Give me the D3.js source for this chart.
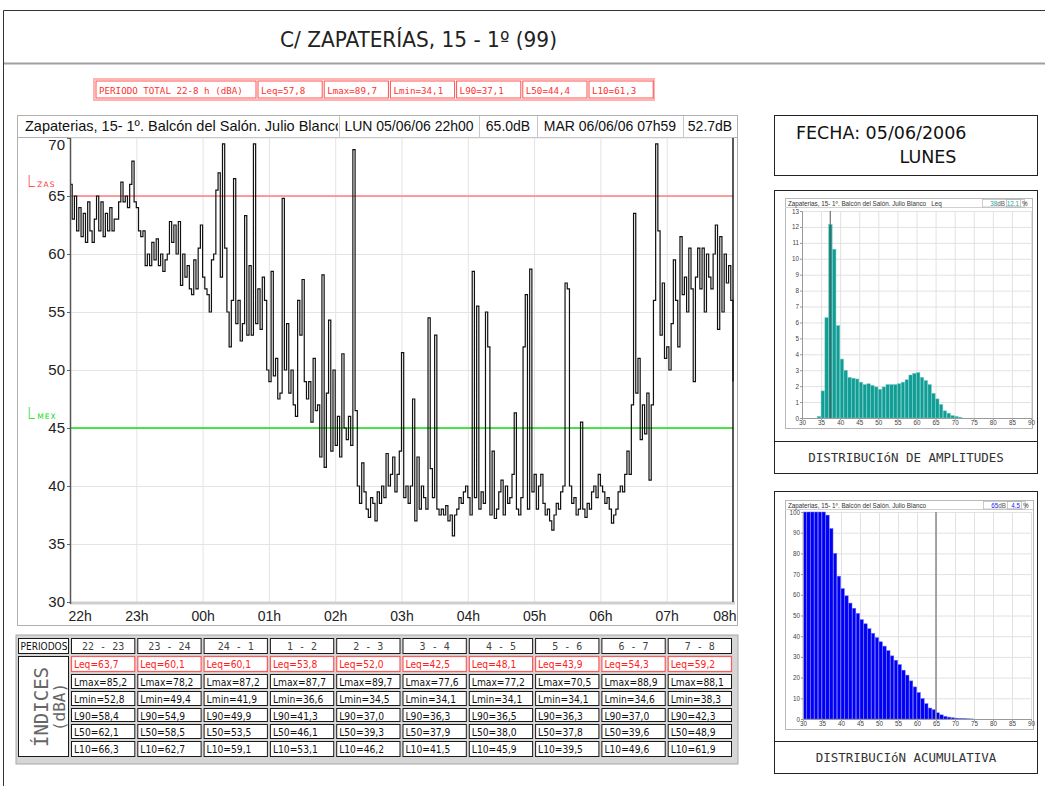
<!DOCTYPE html>
<head>
  <meta charset="utf-8">
  <style>
    body { margin: 0; background: #fff; }
    svg { display: block; }
  </style>
  <script src="https://cdn.jsdelivr.net/npm/d3@7"></script>
</head>
<body>
<svg id=chart width="1045" height="786"></svg>

<script>
// ---- values ----
const title = 'C/ ZAPATERÍAS, 15 - 1º (99)'
const totalLabels = ['PERIODO TOTAL 22-8 h (dBA)', 'Leq=57,8', 'Lmax=89,7', 'Lmin=34,1', 'L90=37,1', 'L50=44,4', 'L10=61,3']
const headerTexts = ['Zapaterias, 15- 1º. Balcón del Salón. Julio Blanco', 'LUN 05/06/06 22h00', '65.0dB', 'MAR 06/06/06 07h59', '52.7dB']

const hourLabels = ['22h', '23h', '00h', '01h', '02h', '03h', '04h', '05h', '06h', '07h', '08h']
const levelTicks = [30, 35, 40, 45, 50, 55, 60, 65, 70]
const limitZas = 65
const limitMex = 45

// Leq trace, one value every 2 minutes from 22h00
const stepMinutes = 2
const leqTrace = [
  66, 63, 65, 62, 64, 61.5, 63.5, 61, 64.5, 62,
  61, 63, 65, 62, 64.5, 61.5, 63.5, 62, 64, 62,
  63, 63, 64.5, 66.2, 64.5, 65, 64, 66, 68, 64.5,
  64, 62, 61.5, 62, 59, 60, 59, 61, 59.5, 61.3,
  59, 60, 58.5, 59.5, 60, 62.8, 61, 62.5, 60, 62.8,
  57.3, 60, 58, 59, 57, 56.5, 59.5, 57, 60.5, 62.5,
  58, 57, 56.5, 55, 59.5, 60, 65.5, 67, 58, 69.5,
  60.5, 55, 52, 56, 66.5, 54, 56, 52.5, 54, 63.3,
  53, 59, 53, 69.5, 54, 57, 53.5, 58, 56, 50,
  49, 58.5, 49.5, 51, 47.5, 48, 64.8, 50, 54, 48,
  50, 47, 46, 56, 53, 57.8, 49, 47.5, 49, 45.5,
  51, 46.5, 47, 42.5, 58.2, 41.6, 48, 54.3, 43, 50,
  43.5, 46, 42.5, 51.4, 45, 44, 46, 43.5, 69, 46.5,
  40, 38.5, 42, 39.5, 38, 37.3, 39, 38.5, 37, 39.5,
  38.5, 40, 39, 42.8, 40, 41, 42.5, 39.5, 41, 43,
  51.5, 39, 40, 38.5, 40, 47.5, 37, 42.5, 38, 40,
  39, 38, 54.5, 41.5, 39, 53, 38, 37.5, 38, 37.5,
  38.3, 37, 37.5, 35.7, 37.5, 38, 39, 38.5, 39.5, 40,
  39, 37.5, 58.5, 39, 55.5, 38, 39.5, 38.5, 55, 52,
  37.5, 43, 37.2, 38, 39.5, 40.5, 37.5, 40, 38.5, 39,
  41, 46.3, 38, 37.5, 39, 52, 56.5, 38, 58.7, 39.5,
  41, 38, 40, 41, 38.5, 37.5, 38, 37, 36.2, 37.5,
  38.5, 38, 39.5, 40, 57.5, 57, 40, 38.5, 39, 37.5,
  38, 45.5, 38, 37.3, 38.5, 38, 39.5, 40, 39, 41,
  40, 39.5, 38.5, 39, 38, 36.8, 37.5, 38, 39.5, 40,
  39.5, 41, 43, 41, 47, 63.5, 48, 51, 44, 47,
  44.5, 48, 40.5, 47, 56, 69.5, 62, 53, 57.5, 51,
  52, 50, 54, 59.5, 56, 52, 61.5, 56.5, 58, 55,
  60.5, 57, 49, 58, 60.5, 57, 60.5, 55, 60, 58,
  57, 60, 62.5, 53.5, 61.5, 55, 60, 57.5, 59, 56,
  49
]

const periods = ['22 - 23', '23 - 24', '24 - 1', '1 - 2', '2 - 3', '3 - 4', '4 - 5', '5 - 6', '6 - 7', '7 - 8']
const leqRow  = [63.7, 60.1, 60.1, 53.8, 52.0, 42.5, 48.1, 43.9, 54.3, 59.2]
const lmaxRow = [85.2, 78.2, 87.2, 87.7, 89.7, 77.6, 77.2, 70.5, 88.9, 88.1]
const lminRow = [52.8, 49.4, 41.9, 36.6, 34.5, 34.1, 34.1, 34.1, 34.6, 38.3]
const l90Row  = [58.4, 54.9, 49.9, 41.3, 37.0, 36.3, 36.5, 36.3, 37.0, 42.3]
const l50Row  = [62.1, 58.5, 53.5, 46.1, 39.3, 37.9, 38.0, 37.8, 39.6, 48.9]
const l10Row  = [66.3, 62.7, 59.1, 53.1, 46.2, 41.5, 45.9, 39.5, 49.6, 61.9]

const fechaText = 'FECHA: 05/06/2006'
const diaText = 'LUNES'

const distTicks = [30, 35, 40, 45, 50, 55, 60, 65, 70, 75, 80, 85, 90]
const ampLevels  = [34, 35, 36, 37, 38, 39, 40, 41, 42, 43, 44, 45, 46, 47, 48, 49, 50, 51, 52,
                    53, 54, 55, 56, 57, 58, 59, 60, 61, 62, 63, 64, 65, 66, 67, 68, 69, 70, 71]
const ampPercent = [0.1, 1.7, 6.3, 12.15, 10.6, 5.8, 3.7, 3.0, 2.55, 2.5, 2.45, 2.25, 2.1, 2.15, 2.05, 1.95, 1.8, 1.95, 2.1,
                    2.1, 2.1, 2.15, 2.25, 2.4, 2.7, 2.8, 2.85, 2.55, 2.35, 2.1, 1.55, 1.2, 0.85, 0.45, 0.3, 0.15, 0.1, 0.05]
const ampTicks = [0, 1, 2, 3, 4, 5, 6, 7, 8, 9, 10, 11, 12, 13]
const cumLevels  = [30, 31, 32, 33, 34, 35, 36, 37, 38, 39, 40, 41, 42, 43, 44, 45, 46, 47, 48, 49, 50, 51, 52,
                    53, 54, 55, 56, 57, 58, 59, 60, 61, 62, 63, 64, 65, 66, 67, 68, 69, 70, 71, 72, 73, 74]
const cumPercent = [100, 100, 100, 100, 100, 100, 98.5, 92, 80, 69, 63, 59.5, 56, 53.5, 51, 48, 46, 43.6, 41.4, 39.3, 37.3, 35.2, 33,
                    30.5, 28.4, 26.3, 23.6, 21.2, 18.4, 15.5, 12.8, 9.9, 7.4, 5.3, 4.5, 3.0, 2.0, 1.3, 0.9, 0.6, 0.4, 0.25, 0.15, 0.1, 0.05]
const cumTicks = [0, 10, 20, 30, 40, 50, 60, 70, 80, 90, 100]

// ---- drawing ----
const svg = d3.select('#chart')
const narrow = "'Liberation Sans Narrow','DejaVu Sans Condensed',sans-serif"
const mono = "'DejaVu Sans Mono','Liberation Mono',monospace"
const arial = "'Liberation Sans',Arial,sans-serif"
const dejavu = "'DejaVu Sans',Verdana,sans-serif"
const fmt = v => d3.format('.1f')(v).replace('.', ',')

// page frame and title
svg.append('path').attr('d', 'M3.5,786V10.5H1045').attr('fill', 'none').attr('stroke', '#333')
svg.append('line').attr('x1', 4).attr('x2', 1045).attr('y1', 63.5).attr('y2', 63.5)
  .attr('stroke', '#a0a0a0').attr('stroke-width', 2)
svg.append('text').attr('x', 280).attr('y', 47).attr('font-family', narrow).attr('font-size', 21)
  .attr('fill', '#222').attr('textLength', 277).attr('lengthAdjust', 'spacingAndGlyphs').text(title)

// total period summary
const sumG = svg.append('g')
const sumW = totalLabels.map((d, i) => i === 0 ? 162 : 66.2)
let sx = 95
sumG.append('rect').attr('x', 94).attr('y', 79).attr('width', 560).attr('height', 21)
  .attr('fill', 'none').attr('stroke', '#ffb4b4').attr('stroke-width', 2)
totalLabels.forEach((t, i) => {
  sumG.append('rect').attr('x', sx + 1).attr('y', 81).attr('width', sumW[i] - 2).attr('height', 17)
    .attr('fill', '#fff').attr('stroke', '#ff5050')
  sumG.append('text').attr('x', sx + 4).attr('y', 93.5).attr('font-family', mono).attr('font-size', 9.2)
    .attr('fill', '#ff3030').text(t)
  sx += sumW[i]
})

// main chart
const x = d3.scaleLinear().domain([0, 600]).range([70, 733])
const y = d3.scaleLinear().domain([30, 70]).range([602, 138])

svg.append('rect').attr('x', 17.5).attr('y', 137.5).attr('width', 720).attr('height', 488)
  .attr('fill', '#fff').attr('stroke', '#b0b0b0')

// header strip
const hdrEdges = [18, 339, 479, 537, 683, 737]
const hdrG = svg.append('g')
hdrG.append('rect').attr('x', 17.5).attr('y', 115.5).attr('width', 720).attr('height', 22)
  .attr('fill', '#fff').attr('stroke', '#b0b0b0')
svg.append('clipPath').attr('id', 'hclip').append('rect').attr('x', 18).attr('y', 115).attr('width', 320).attr('height', 22)
headerTexts.forEach((t, i) => {
  if (i > 0) hdrG.append('line').attr('x1', hdrEdges[i] + 0.5).attr('x2', hdrEdges[i] + 0.5)
    .attr('y1', 116).attr('y2', 137).attr('stroke', '#c8c8c8')
  const tx = hdrG.append('text').attr('x', i === 0 ? 25 : (hdrEdges[i] + hdrEdges[i + 1]) / 2)
    .attr('y', 131).attr('font-family', arial).attr('font-size', i === 0 ? 14.5 : 14).attr('fill', '#111')
    .attr('text-anchor', i === 0 ? 'start' : 'middle').text(t)
  if (i === 0) tx.attr('clip-path', 'url(#hclip)')
})

// grid
const plot = svg.append('g')
plot.selectAll('line.hg').data(levelTicks.slice(1, -1)).join('line')
  .attr('x1', x(0)).attr('x2', x(600)).attr('y1', d => y(d) + 0.5).attr('y2', d => y(d) + 0.5)
  .attr('stroke', '#e4e4e4')
plot.selectAll('line.vg').data(hourLabels.slice(1, -1)).join('line')
  .attr('x1', (d, i) => x((i + 1) * 60) + 0.5).attr('x2', (d, i) => x((i + 1) * 60) + 0.5)
  .attr('y1', y(70)).attr('y2', y(30)).attr('stroke', '#e4e4e4')
plot.append('line').attr('x1', x(0)).attr('x2', x(600)).attr('y1', y(70)).attr('y2', y(70)).attr('stroke', '#e0e0e0')
plot.append('line').attr('x1', x(0)).attr('x2', x(600) + 2).attr('y1', y(30) + 1).attr('y2', y(30) + 1)
  .attr('stroke', '#cfcfcf').attr('stroke-width', 3)

// limit lines
plot.append('line').attr('x1', x(0)).attr('x2', x(600)).attr('y1', y(limitZas)).attr('y2', y(limitZas))
  .attr('stroke', '#ff8080').attr('stroke-width', 1.6)
plot.append('line').attr('x1', x(0)).attr('x2', x(600)).attr('y1', y(limitMex)).attr('y2', y(limitMex))
  .attr('stroke', '#10dd10').attr('stroke-width', 1.6)
const limLabel = (v, sub, col) => {
  const t = plot.append('text').attr('x', 27).attr('y', y(v) - 9).attr('fill', col).attr('font-family', dejavu)
  t.append('tspan').attr('font-size', 15).attr('font-weight', 200).text('L')
  t.append('tspan').attr('font-size', 7.5).attr('dx', 2).attr('letter-spacing', 1).text(sub)
}
limLabel(limitZas, 'ZAS', '#ff3030')
limLabel(limitMex, 'MEX', '#10dd10')

// trace
const line = d3.line().curve(d3.curveStepAfter)
  .x((d, i) => x(i * stepMinutes)).y(d => y(d))
plot.append('path').datum(leqTrace).attr('d', line)
  .attr('fill', 'none').attr('stroke', '#111').attr('stroke-width', 1.2)
plot.append('line').attr('x1', x(600)).attr('x2', x(600)).attr('y1', y(70)).attr('y2', y(30))
  .attr('stroke', '#111').attr('stroke-width', 1.4)

// axes
const yAx = svg.append('g').attr('transform', `translate(${x(0)},0)`)
  .call(d3.axisLeft(y).tickValues(levelTicks).tickSize(3).tickPadding(2))
yAx.attr('font-family', arial).attr('font-size', 15)
yAx.select('.domain').remove()
yAx.selectAll('.tick line').attr('stroke', '#666')
yAx.selectAll('.tick text').attr('fill', '#222').filter(d => d === 70).attr('dy', '0.75em')
svg.append('line').attr('x1', x(0) + 0.5).attr('x2', x(0) + 0.5).attr('y1', y(70)).attr('y2', y(30) + 2)
  .attr('stroke', '#555').attr('stroke-width', 1.5)

const xAx = svg.append('g').attr('transform', `translate(0,${y(30)})`)
  .call(d3.axisBottom(x).tickValues(hourLabels.map((d, i) => i * 60)).tickFormat((d, i) => hourLabels[i]).tickSize(0).tickPadding(9))
xAx.attr('font-family', arial).attr('font-size', 14)
xAx.select('.domain').remove()
xAx.selectAll('.tick text').attr('fill', '#222')
xAx.selectAll('.tick text').filter((d, i) => i === 0).attr('text-anchor', 'start').attr('dx', -2)
xAx.selectAll('.tick text').filter((d, i) => i === hourLabels.length - 1).attr('text-anchor', 'end').attr('dx', 3)

// period table
const tbl = svg.append('g')
const rowY = [637, 655, 673, 690, 707, 723, 740, 758]
const rows = [
  { name: 'Leq', vals: leqRow, red: true },
  { name: 'Lmax', vals: lmaxRow },
  { name: 'Lmin', vals: lminRow },
  { name: 'L90', vals: l90Row },
  { name: 'L50', vals: l50Row },
  { name: 'L10', vals: l10Row }
]
tbl.append('rect').attr('x', 16).attr('y', 635).attr('width', 722).attr('height', 129)
  .attr('fill', '#d6d6d6').attr('stroke', '#a8a8a8')
const cell = (x0, y0, x1, y1, red) => tbl.append('rect')
  .attr('x', x0 + 1.5).attr('y', y0 + 1.5).attr('width', x1 - x0 - 3).attr('height', y1 - y0 - 3)
  .attr('fill', '#fff').attr('stroke', red ? '#ff5a5a' : '#1a1a1a').attr('stroke-width', red ? 1.2 : 1)
cell(17, rowY[0], x(0), rowY[1])
tbl.append('text').attr('x', 44).attr('y', 650).attr('text-anchor', 'middle').attr('font-family', narrow)
  .attr('font-size', 10).attr('fill', '#111').text('PERIODOS')
cell(17, rowY[1], x(0), rowY[7])
tbl.append('text').attr('transform', 'translate(41,707) rotate(-90)').attr('text-anchor', 'middle')
  .attr('dominant-baseline', 'central').attr('font-family', mono).attr('font-size', 19).attr('fill', '#666').text('ÍNDICES')
tbl.append('text').attr('transform', 'translate(59,707) rotate(-90)').attr('text-anchor', 'middle')
  .attr('dominant-baseline', 'central').attr('font-family', mono).attr('font-size', 16).attr('fill', '#666').text('(dBA)')
periods.forEach((p, c) => {
  const x0 = x(c * 60), x1 = x((c + 1) * 60)
  cell(x0, rowY[0], x1, rowY[1])
  tbl.append('text').attr('x', (x0 + x1) / 2).attr('y', 650).attr('text-anchor', 'middle')
    .attr('font-family', mono).attr('font-size', 10).attr('fill', '#444')
    .attr('xml:space', 'preserve').style('white-space', 'pre').text(p)
  rows.forEach((r, k) => {
    cell(x0, rowY[k + 1], x1, rowY[k + 2], r.red)
    tbl.append('text').attr('x', x0 + 4).attr('y', rowY[k + 1] + 12.5)
      .attr('font-family', narrow).attr('font-size', 10.2).attr('fill', r.red ? '#ff2020' : '#111')
      .text(`${r.name}=${fmt(r.vals[c])}`)
  })
})

// right column: date box
svg.append('rect').attr('x', 774.5).attr('y', 115.5).attr('width', 263).attr('height', 60)
  .attr('fill', '#fff').attr('stroke', '#222')
svg.append('text').attr('x', 796).attr('y', 139).attr('font-family', dejavu).attr('font-size', 17.5)
  .attr('fill', '#111').text(fechaText)
svg.append('text').attr('x', 928).attr('y', 163).attr('text-anchor', 'middle').attr('font-family', dejavu)
  .attr('font-size', 17.5).attr('fill', '#111').text(diaText)

// distribution panels
function drawDist(cfg) {
  const g = svg.append('g')
  g.append('rect').attr('x', 774.5).attr('y', cfg.boxY + 0.5).attr('width', 263).attr('height', cfg.boxH)
    .attr('fill', '#fff').attr('stroke', '#222')
  g.append('line').attr('x1', 775).attr('x2', 1038).attr('y1', cfg.sepY + 0.5).attr('y2', cfg.sepY + 0.5).attr('stroke', '#222')
  g.append('text').attr('x', 906).attr('y', cfg.sepY + 21).attr('text-anchor', 'middle')
    .attr('font-family', mono).attr('font-size', 12.5).attr('fill', '#333').text(cfg.caption)

  const f = cfg.frame
  g.append('rect').attr('x', f.x + 0.5).attr('y', f.y + 0.5).attr('width', f.w).attr('height', f.h)
    .attr('fill', '#fff').attr('stroke', '#b8b8b8')
  g.append('line').attr('x1', f.x).attr('x2', f.x + f.w).attr('y1', f.y + 9.5).attr('y2', f.y + 9.5).attr('stroke', '#d0d0d0')
  g.append('text').attr('x', f.x + 3).attr('y', f.y + 7.5).attr('font-family', arial).attr('font-size', 6.3)
    .attr('fill', '#333').attr('xml:space', 'preserve').style('white-space', 'pre').text(cfg.stripText)
  const bx = f.x + f.w - 50
  g.append('rect').attr('x', bx + 0.5).attr('y', f.y + 1.5).attr('width', 42).attr('height', 7.5)
    .attr('fill', '#fff').attr('stroke', '#aaa').attr('stroke-width', 0.6)
  g.append('rect').attr('x', bx + 24.5).attr('y', f.y + 1.5).attr('width', 14).attr('height', 7.5)
    .attr('fill', 'none').attr('stroke', '#aaa').attr('stroke-width', 0.6)
  const vt = g.append('text').attr('x', bx + 23).attr('y', f.y + 7.5).attr('text-anchor', 'end')
    .attr('font-family', arial).attr('font-size', 6.3)
  vt.append('tspan').attr('fill', cfg.accent).text(cfg.cursor.level)
  vt.append('tspan').attr('fill', '#555').text('dB')
  const pt = g.append('text').attr('x', bx + 37).attr('y', f.y + 7.5).attr('text-anchor', 'end')
    .attr('font-family', arial).attr('font-size', 6.3)
  pt.append('tspan').attr('fill', cfg.accent).text(cfg.cursor.pct)
  g.append('text').attr('x', bx + 40).attr('y', f.y + 7.5).attr('font-family', arial).attr('font-size', 6.3)
    .attr('fill', '#333').text('%')

  const dx = d3.scaleLinear().domain([30, 90]).range(cfg.xr)
  const dy = d3.scaleLinear().domain([0, cfg.ymax]).range(cfg.yr)
  g.selectAll('line.vg').data(distTicks).join('line')
    .attr('x1', d => dx(d) + 0.5).attr('x2', d => dx(d) + 0.5).attr('y1', cfg.yr[1]).attr('y2', cfg.yr[0])
    .attr('stroke', '#e2e2e2')
  g.selectAll('line.hg').data(cfg.yticks).join('line')
    .attr('x1', cfg.xr[0]).attr('x2', cfg.xr[1]).attr('y1', d => dy(d) + 0.5).attr('y2', d => dy(d) + 0.5)
    .attr('stroke', '#e2e2e2')
  g.selectAll('rect.bar').data(cfg.levels.map((l, i) => ({ l, v: cfg.values[i] }))).join('rect')
    .attr('x', d => dx(d.l)).attr('width', d => dx(d.l + 1) - dx(d.l) - 0.4)
    .attr('y', d => dy(d.v)).attr('height', d => dy(0) - dy(d.v))
    .attr('fill', cfg.color).attr('stroke', cfg.edge).attr('stroke-width', 0.5)
  g.append('line').attr('x1', dx(cfg.cursor.x)).attr('x2', dx(cfg.cursor.x)).attr('y1', cfg.yr[1]).attr('y2', cfg.yr[0])
    .attr('stroke', cfg.cursor.col).attr('stroke-width', cfg.cursor.w)

  const ya = g.append('g').attr('transform', `translate(${cfg.xr[0]},0)`)
    .call(d3.axisLeft(dy).tickValues(cfg.yticks).tickSize(2).tickPadding(1))
  const xa = g.append('g').attr('transform', `translate(0,${cfg.yr[0]})`)
    .call(d3.axisBottom(dx).tickValues(distTicks).tickSize(2).tickPadding(1))
  ;[ya, xa].forEach(a => {
    a.attr('font-family', arial).attr('font-size', 6.3)
    a.select('.domain').attr('stroke', '#999')
    a.selectAll('.tick line').attr('stroke', '#999')
    a.selectAll('.tick text').attr('fill', '#444')
  })
}

drawDist({
  boxY: 190, boxH: 283, sepY: 441, caption: 'DISTRIBUCIóN DE AMPLITUDES',
  frame: { x: 785, y: 198, w: 247, h: 230 },
  stripText: 'Zapaterias, 15- 1º. Balcón del Salón. Julio Blanco   Leq',
  xr: [802, 1031], yr: [418, 211], ymax: 13, yticks: ampTicks,
  levels: ampLevels, values: ampPercent, color: '#119d95', edge: '#6cc9c2', accent: '#1aa89f',
  cursor: { x: 37.4, level: '38', pct: '12.1', col: '#555', w: 1 }
})
drawDist({
  boxY: 491, boxH: 282, sepY: 741, caption: 'DISTRIBUCIóN ACUMULATIVA',
  frame: { x: 785, y: 500, w: 248, h: 229 },
  stripText: 'Zapaterias, 15- 1º. Balcón del Salón. Julio Blanco',
  xr: [803, 1031], yr: [719, 512], ymax: 100, yticks: cumTicks,
  levels: cumLevels, values: cumPercent, color: '#0000f4', edge: '#6a6aff', accent: '#2020ff',
  cursor: { x: 65, level: '65', pct: '4.5', col: '#8a8a8a', w: 1.5 }
})
</script>
</body>
